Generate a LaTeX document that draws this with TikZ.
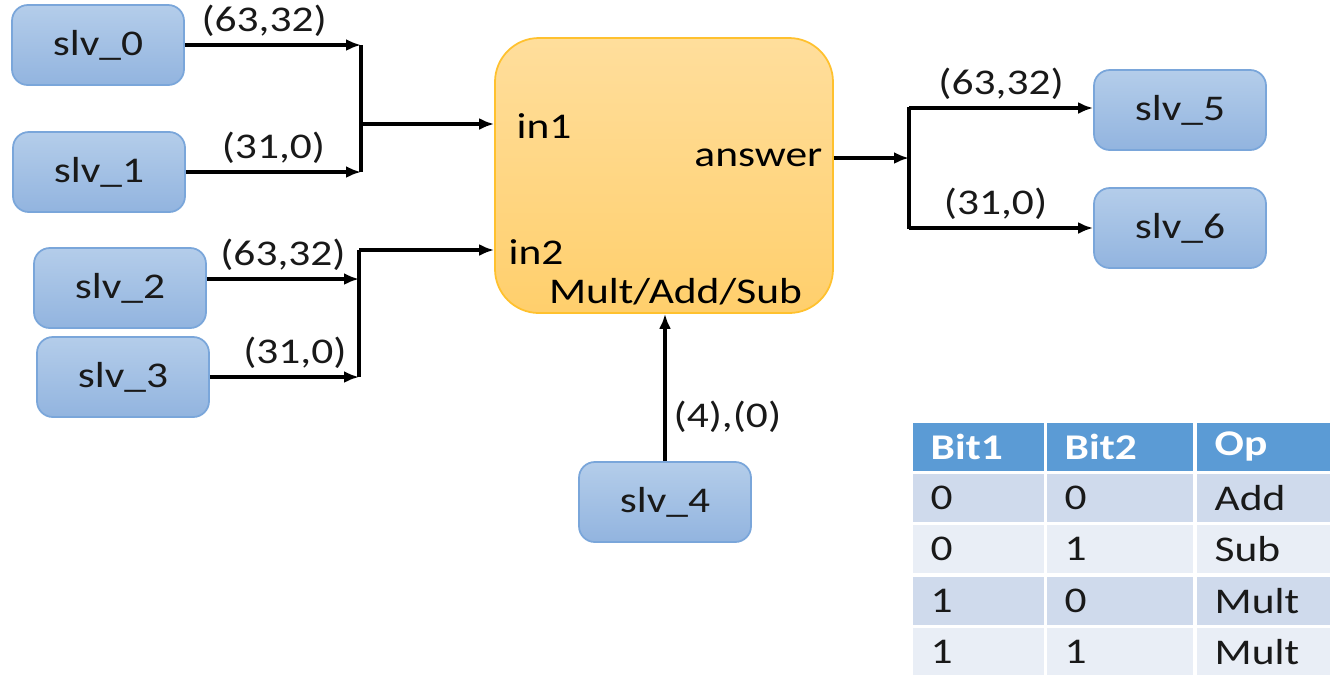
\documentclass[tikz,border=0pt]{standalone}
\usepackage{fontspec}
\setmainfont{Carlito}[FakeStretch=1.2]
\usepackage{tikz}
\usetikzlibrary{positioning,calc,arrows.meta}

\definecolor{slvtop}{HTML}{B4CDEA}
\definecolor{slvbot}{HTML}{92B4DF}
\definecolor{slvedge}{HTML}{7AA6DA}
\definecolor{alutop}{HTML}{FFDE9C}
\definecolor{alubot}{HTML}{FFCF6C}
\definecolor{aluedge}{HTML}{FFC12E}
\definecolor{hdrblue}{HTML}{5B9BD5}
\definecolor{rowdark}{HTML}{CFDAEC}
\definecolor{rowlight}{HTML}{E9EEF6}

\tikzset{
  slv/.style={draw=slvedge, line width=0.5pt, rounded corners=4.5pt,
    top color=slvtop, bottom color=slvbot, text=black!90,
    minimum width=1.72cm, minimum height=0.8cm, inner sep=0pt},
  alu/.style={draw=aluedge, line width=0.5pt, rounded corners=12.5pt,
    top color=alutop, bottom color=alubot,
    minimum width=3.38cm, minimum height=2.75cm, inner sep=0pt},
  wire/.style={line width=0.9pt, -{Latex[length=1.5mm,width=1.2mm]}},
  bus/.style={line width=1pt},
  lbl/.style={inner sep=2pt, text=black!90},
  cell/.style={anchor=north west, inner xsep=0.18cm, inner ysep=0pt,
    minimum height=0.48cm, text=black!90}
}

\begin{document}
\begin{tikzpicture}[font=\fontsize{10.3}{12}\selectfont]
    \useasboundingbox (0,0) rectangle (13.3,-6.74);

    % slave blocks
    \node[slv] (s0) at (0.98,-0.45) {slv\_0};
    \node[slv] (s1) at (0.99,-1.72) {slv\_1};
    \node[slv] (s2) at (1.20,-2.88) {slv\_2};
    \node[slv] (s3) at (1.23,-3.77) {slv\_3};
    \node[slv] (s4) at (6.65,-5.02) {slv\_4};
    \node[slv] (s5) at (11.80,-1.10) {slv\_5};
    \node[slv] (s6) at (11.80,-2.28) {slv\_6};

    % ALU
    \node[alu] (alu) at (6.64,-1.755) {};
    \node[anchor=west, inner sep=0pt] (in1) at (5.16,-1.26) {in1};
    \node[anchor=west, inner sep=0pt] (in2) at (5.08,-2.52) {in2};
    \node[anchor=east, inner sep=0pt] (ans) at (8.23,-1.58) {answer};
    \node[inner sep=0pt] (op) at (6.755,-2.92) {Mult/Add/Sub};

    % in1 bus
    \coordinate (j1) at (3.61,-1.24);
    \draw[wire] (s0.east) -- (s0.east -| j1) node[lbl, pos=0.45, above] (l0) {(63,32)};
    \draw[wire] (s1.east) -- (s1.east -| j1) node[lbl, midway, above] (l1) {(31,0)};
    \draw[bus] (s0.east -| j1) -- (s1.east -| j1);
    \draw[wire] (j1) -- (j1 -| alu.west);

    % in2 bus
    \coordinate (j2) at (3.59,-2.50);
    \draw[wire] ([yshift=0.09cm]s2.east) -- ([yshift=0.09cm]s2.east -| j2) node[lbl, midway, above] (l2) {(63,32)};
    \draw[wire] (s3.east) -- (s3.east -| j2) node[lbl, pos=0.57, above] (l3) {(31,0)};
    \draw[bus] (j2) -- (j2 |- s3.east);
    \draw[wire] (j2) -- (j2 -| alu.west);

    % answer bus
    \coordinate (j3) at (9.09,-1.58);
    \draw[wire] (ans.east -| alu.east) -- (j3);
    \draw[bus] ([yshift=0.03cm]j3 |- s5.west) -- ([yshift=-0.01cm]j3 |- s6.west);
    \draw[wire] ([yshift=0.02cm]j3 |- s5.west) -- ([yshift=0.02cm]s5.west) node[lbl, midway, above] (l5) {(63,32)};
    \draw[wire] (j3 |- s6.west) -- (s6.west) node[lbl, pos=0.47, above] (l6) {(31,0)};

    % op select
    \draw[wire] (s4.north) -- (s4.north |- alu.south) node[lbl, pos=0.3, right] (l4) {(4),(0)};

    % op table
    \node[cell, fill=hdrblue, text=white, text width=0.95cm] (h1) at (9.12,-4.22) {\bfseries Bit1};
    \node[cell, fill=hdrblue, text=white, text width=1.10cm] (h2) at (10.46,-4.22) {\bfseries Bit2};
    \node[cell, fill=hdrblue, text=white, text width=0.98cm] (h3) at (11.96,-4.22) {\bfseries Op};
    \foreach \y/\a/\b/\o/\f [count=\r] in {4.73/0/0/Add/rowdark, 5.245/0/1/Sub/rowlight, 5.76/1/0/Mult/rowdark, 6.27/1/1/Mult/rowlight} {
        \node[cell, fill=\f, text width=0.95cm] (a\r) at (9.12,-\y) {\a};
        \node[cell, fill=\f, text width=1.10cm] (b\r) at (10.46,-\y) {\b};
        \node[cell, fill=\f, text width=0.98cm] (c\r) at (11.96,-\y) {\o};
    }
\end{tikzpicture}
\end{document}
